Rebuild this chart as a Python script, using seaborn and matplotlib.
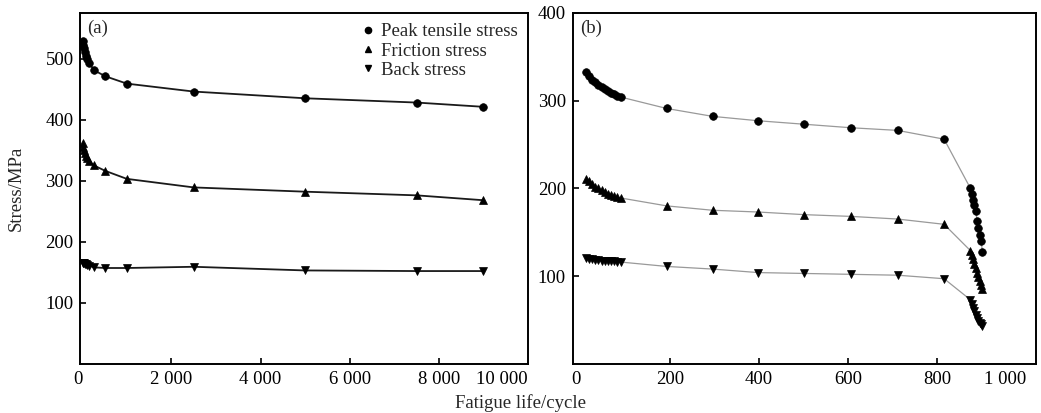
import matplotlib
matplotlib.use('Agg')
import matplotlib.pyplot as plt
import seaborn as sns
from matplotlib.lines import Line2D

# (a) long life test, cycles up to ~9000
cycles_a = [10, 25, 40, 60, 80, 110, 160, 260, 520, 1000, 2500, 5000, 7500, 9000]
peak_a = [528, 523, 517, 511, 505, 500, 493, 481, 471, 459, 446, 435, 428, 421]
friction_a = [361, 356, 351, 346, 341, 337, 332, 325, 316, 303, 289, 282, 276, 268]
back_a = [166, 166, 165, 164, 163, 162, 161, 158, 157, 157, 159, 153, 152, 152]

# (b) short life test, failure at ~900 cycles
cycles_b = [12, 19, 26, 33, 40, 47, 54, 61, 68, 75, 82, 90,
            193, 296, 398, 502, 607, 711, 815,
            874, 877, 880, 883, 886, 889, 892, 895, 898, 901]
peak_b = [332, 328, 324, 321, 318, 315, 313, 311, 309, 307, 305, 304,
          291, 282, 277, 273, 269, 266, 256,
          200, 194, 187, 181, 174, 163, 155, 147, 140, 127]
friction_b = [211, 208, 205, 202, 200, 198, 196, 194, 192, 191, 190, 189,
              180, 175, 173, 170, 168, 165, 159,
              129, 124, 119, 114, 109, 104, 99, 94, 90, 85]
back_b = [121, 120, 119, 118, 118, 117, 117, 117, 117, 117, 116, 116,
          111, 108, 104, 103, 102, 101, 97,
          73, 68, 64, 60, 56, 52, 49, 47, 45, 43]

series_names = ['Peak tensile stress', 'Friction stress', 'Back stress']
series_markers = ['o', '^', 'v']

xticks_a = [0, 2000, 4000, 6000, 8000, 10000]
xtick_labels_a = ['0', '2 000', '4 000', '6 000', '8 000', '10 000']
yticks_a = [100, 200, 300, 400, 500]
xticks_b = [0, 200, 400, 600, 800, 1000]
xtick_labels_b = ['0', '200', '400', '600', '800', '1 000']
yticks_b = [100, 200, 300, 400]

FS = 13.5

sns.set_style('ticks')
plt.rcParams['font.family'] = ['Liberation Serif', 'DejaVu Serif']
plt.rcParams['font.size'] = FS


def draw_panel(ax, x, ys, line_color, lw):
    for y, marker in zip(ys, series_markers):
        sns.lineplot(x=x, y=y, ax=ax, color=line_color, linewidth=lw,
                     marker=marker, markersize=5.5, markerfacecolor='black',
                     markeredgecolor='black', markeredgewidth=0.5,
                     sort=False, errorbar=None)


def style_axes(ax, xticks, xlabels, yticks):
    ax.set_xticks(xticks)
    ax.set_xticklabels(xlabels)
    ax.set_yticks(yticks)
    ax.set_xlabel('')
    ax.set_ylabel('')
    ax.tick_params(direction='in', length=4.5, width=1.2, labelsize=FS, pad=5,
                   colors='black')
    for s in ax.spines.values():
        s.set_visible(True)
        s.set_linewidth(1.4)
        s.set_color('black')
    labels = ax.get_xticklabels()
    labels[0].set_ha('right')
    labels[-1].set_ha('right')
    ticks = ax.xaxis.get_major_ticks()
    ticks[0].tick1line.set_visible(False)
    ticks[-1].tick1line.set_visible(False)


fig = plt.figure(figsize=(10.41, 4.13), dpi=100)
ax_a = fig.add_axes([0.0773, 0.119, 0.4299, 0.850])
ax_b = fig.add_axes([0.5504, 0.119, 0.4448, 0.850])

draw_panel(ax_a, cycles_a, [peak_a, friction_a, back_a], '#1a1a1a', 1.3)
draw_panel(ax_b, cycles_b, [peak_b, friction_b, back_b], '#999999', 0.9)

ax_a.set_xlim(-40, 10000)
ax_a.set_ylim(0, 575)
ax_b.set_xlim(-17, 1021)
ax_b.set_ylim(0, 400)

style_axes(ax_a, xticks_a, xtick_labels_a, yticks_a)
style_axes(ax_b, xticks_b, xtick_labels_b, yticks_b)

ax_a.text(0.0145, 0.955, '(a)', transform=ax_a.transAxes, va='center', fontsize=FS)
ax_b.text(0.015, 0.955, '(b)', transform=ax_b.transAxes, va='center', fontsize=FS)

handles = [Line2D([], [], marker=m, color='black', linestyle='none', markersize=4.5)
           for m in series_markers]
ax_a.legend(handles, series_names, loc='upper right', frameon=False,
            fontsize=FS, handletextpad=0.2, labelspacing=0.12,
            borderaxespad=0.4, borderpad=0.15, handlelength=1.0)

fig.text(0.5, 0.024, 'Fatigue life/cycle', ha='center', va='center', fontsize=FS)
fig.text(0.016, 0.545, 'Stress/MPa', ha='center', va='center', rotation=90, fontsize=FS)

fig.savefig('out.png', dpi=100)
